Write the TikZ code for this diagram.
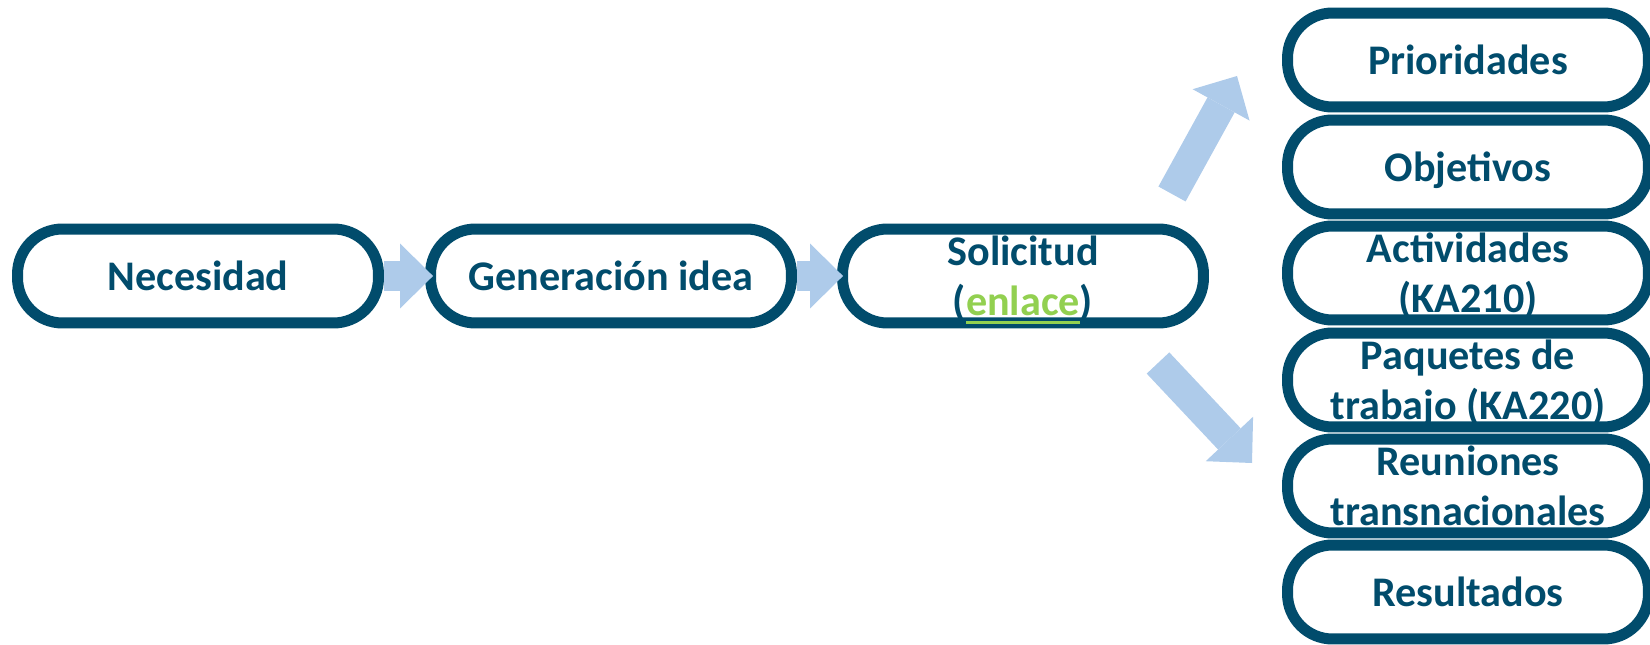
\documentclass[tikz,border=0pt]{standalone}
\usepackage{fontspec}
\setmainfont{Carlito}
\usepackage{tikz}
\usetikzlibrary{arrows.meta, shadows}
\definecolor{azuloscuro}{RGB}{1,76,108}
\definecolor{azulclaro}{RGB}{174,203,234}
\definecolor{verdeenlace}{RGB}{146,208,80}
\newcommand\subrayado[1]{\setbox0\hbox{#1}\rlap{\rule[-0.16cm]{\wd0}{0.06cm}}\box0}

\begin{document}
\begin{tikzpicture}[x=0.02cm,y=-0.02cm]
				\tikzstyle{etapa} = [rectangle,rounded corners=0.9cm,fill=white,draw=azuloscuro,line width=0.22cm,minimum width=7.22cm,minimum height=1.88cm,inner sep=0pt,align=center,text=azuloscuro,font=\fontsize{24}{28.5}\selectfont\bfseries,drop shadow={shadow xshift=0.07cm,shadow yshift=-0.07cm,opacity=0.3,fill=black}]
				\tikzstyle{simple} = [etapa,text height=0.62cm,text depth=0.04cm]
				\tikzstyle{doble} = [etapa,text depth=0cm]
				\tikzstyle{flecha} = [azulclaro,line width=0.62cm,-{Triangle[width=1.3cm,length=0.66cm,line width=0pt]}]
				\useasboundingbox (0,0) rectangle (1650,645);
				\clip (0,0) rectangle (1650,645);
				\node[simple] (n1) at (198,276) {Necesidad};
				\node[simple] (n2) at (611,276) {Generación idea};
				\node[doble] (n3) at (1023,276) {Solicitud\\({\color{verdeenlace}\subrayado{enlace}})};
				\node[simple] (n4) at (1468,60) {Prioridades};
				\node[simple] (n5) at (1468,167) {Objetivos};
				\node[doble] (n6) at (1468,273) {Actividades\\(KA210)};
				\node[doble] (n7) at (1468,380) {Paquetes de\\trabajo (KA220)};
				\node[doble] (n8) at (1468,486) {Reuniones\\transnacionales};
				\node[simple] (n9) at (1468,592) {Resultados};
				\coordinate (f1) at (1172,194);
				\coordinate (f2) at (1237,76);
				\coordinate (f3) at (1158,363);
				\coordinate (f4) at (1252,463);
				\draw[flecha] (n1.east) -- ([xshift=0.16cm]n2.west);
				\draw[flecha] (n2.east) -- ([xshift=0.12cm]n3.west);
				\draw[flecha] (f1) -- (f2);
				\draw[flecha] (f3) -- (f4);
\end{tikzpicture}
\end{document}
